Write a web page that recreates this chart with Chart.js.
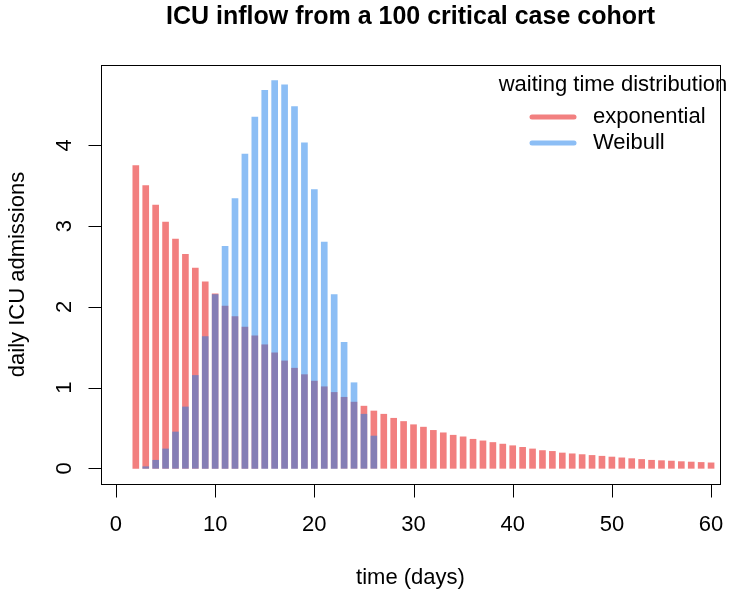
<!DOCTYPE html>
<html>
<head>
<meta charset="utf-8">
<script src="https://cdn.jsdelivr.net/npm/chart.js@4/dist/chart.umd.min.js"></script>
<style>
  body { margin: 0; background: #fff; }
  canvas { display: block; }
</style>
</head>
<body>
<canvas id="icuChart" width="735" height="590"></canvas>
<script>
// días y valores
const expDays = [];
for (let d = 2; d <= 60; d++) expDays.push(d);
const expValues = [3.75, 3.50, 3.26, 3.05, 2.84, 2.65, 2.48, 2.31, 2.16, 2.01,
    1.88, 1.75, 1.64, 1.53, 1.43, 1.33, 1.24, 1.16, 1.08, 1.01,
    0.94, 0.88, 0.82, 0.77, 0.71, 0.67, 0.62, 0.58, 0.54, 0.51,
    0.47, 0.44, 0.41, 0.39, 0.36, 0.34, 0.32, 0.30, 0.28, 0.26,
    0.24, 0.22, 0.21, 0.19, 0.18, 0.17, 0.16, 0.15, 0.14, 0.13,
    0.12, 0.11, 0.10, 0.095, 0.09, 0.083, 0.078, 0.073, 0.068];

const weibullDays = [];
for (let d = 3; d <= 26; d++) weibullDays.push(d);
const weibullValues = [0.02, 0.10, 0.24, 0.45, 0.76, 1.15, 1.63, 2.15, 2.75, 3.34,
    3.89, 4.35, 4.68, 4.80, 4.75, 4.48, 4.03, 3.45, 2.80, 2.15,
    1.56, 1.06, 0.67, 0.40];

const xTicks = [0, 10, 20, 30, 40, 50, 60];
const yTicks = [0, 1, 2, 3, 4];

const seriesNames = ['exponential', 'Weibull'];
const redCol = 'rgba(230, 0, 0, 0.5)';
const blueCol = 'rgba(25, 125, 235, 0.5)';

const FONT = '"Liberation Sans", Arial, sans-serif';

// Plugin para dibujar ejes estilo R, títulos y leyenda
const baseGraphics = {
    id: 'baseGraphics',
    afterDraw(chart) {
        const ctx = chart.ctx;
        const area = chart.chartArea;
        const xs = chart.scales.x;
        const ys = chart.scales.y;
        ctx.save();
        ctx.strokeStyle = '#000';
        ctx.fillStyle = '#000';
        ctx.lineWidth = 1;

        // caja
        ctx.strokeRect(Math.round(area.left) + 0.5, Math.round(area.top) + 0.5,
            Math.round(area.right - area.left), Math.round(area.bottom - area.top));

        // eje x
        ctx.font = '22px ' + FONT;
        ctx.textAlign = 'center';
        ctx.textBaseline = 'middle';
        const axY = Math.round(area.bottom) + 0.5;
        ctx.beginPath();
        xTicks.forEach(t => {
            const px = Math.round(xs.getPixelForValue(t)) + 0.5;
            ctx.moveTo(px, axY);
            ctx.lineTo(px, axY + 13);
        });
        ctx.stroke();
        xTicks.forEach(t => {
            ctx.fillText(String(t), xs.getPixelForValue(t), 525);
        });

        // eje y
        const axX = Math.round(area.left) + 0.5;
        ctx.beginPath();
        yTicks.forEach(t => {
            const py = Math.round(ys.getPixelForValue(t)) + 0.5;
            ctx.moveTo(axX, py);
            ctx.lineTo(axX - 13, py);
        });
        ctx.stroke();
        yTicks.forEach(t => {
            ctx.save();
            ctx.translate(65, ys.getPixelForValue(t));
            ctx.rotate(-Math.PI / 2);
            ctx.fillText(String(t), 0, 0);
            ctx.restore();
        });

        // títulos de ejes
        const midX = (area.left + area.right) / 2;
        const midY = (area.top + area.bottom) / 2;
        ctx.fillText('time (days)', midX, 578);
        ctx.save();
        ctx.translate(18, midY);
        ctx.rotate(-Math.PI / 2);
        ctx.fillText('daily ICU admissions', 0, 0);
        ctx.restore();

        // título principal
        ctx.font = 'bold 25px ' + FONT;
        ctx.fillText('ICU inflow from a 100 critical case cohort', midX, 17);

        // leyenda
        ctx.font = '22px ' + FONT;
        ctx.fillText('waiting time distribution', 613, 85);
        const cols = ['rgb(242, 128, 128)', 'rgb(140, 190, 245)'];
        const rows = [117, 143];
        ctx.lineWidth = 5;
        ctx.lineCap = 'round';
        ctx.textAlign = 'left';
        seriesNames.forEach((name, i) => {
            ctx.strokeStyle = cols[i];
            ctx.beginPath();
            ctx.moveTo(532, rows[i]);
            ctx.lineTo(574, rows[i]);
            ctx.stroke();
            ctx.fillText(name, 593, rows[i]);
        });
        ctx.restore();
    }
};

const ctx = document.getElementById('icuChart').getContext('2d');
new Chart(ctx, {
    type: 'bar',
    data: {
        datasets: [{
            label: seriesNames[1],
            data: weibullDays.map((d, i) => ({ x: d, y: weibullValues[i] })),
            backgroundColor: blueCol,
            borderWidth: 0
        }, {
            label: seriesNames[0],
            data: expDays.map((d, i) => ({ x: d, y: expValues[i] })),
            backgroundColor: redCol,
            borderWidth: 0
        }]
    },
    options: {
        responsive: false,
        animation: false,
        devicePixelRatio: 1,
        layout: { padding: { left: 101, right: 15, top: 65, bottom: 106 } },
        datasets: { bar: { barThickness: 6, grouped: false } },
        scales: {
            x: { type: 'linear', min: -1.51, max: 60.9, offset: false, display: false },
            y: { min: -0.194, max: 4.994, display: false }
        },
        plugins: {
            legend: { display: false },
            tooltip: { enabled: false }
        }
    },
    plugins: [baseGraphics]
});
</script>
</body>
</html>
